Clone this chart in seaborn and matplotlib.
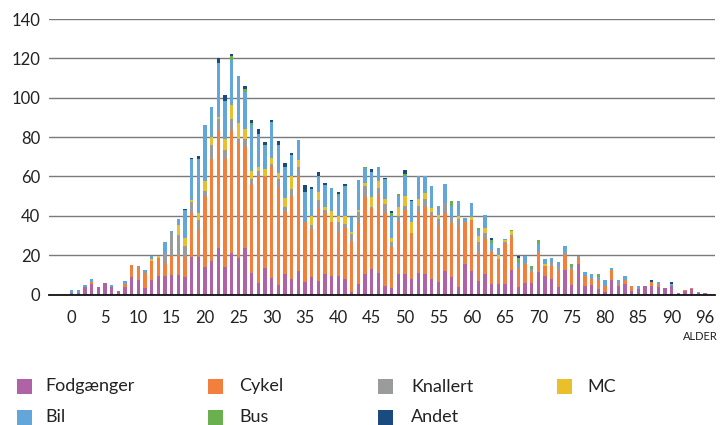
import numpy as np
import pandas as pd
import matplotlib
matplotlib.use("Agg")
import matplotlib.pyplot as plt
from matplotlib.patches import Rectangle
import seaborn as sns

# ---------------- data ----------------
ages = list(range(0, 95)) + [96]

fodgaenger = [1, 1, 4, 5.5, 4, 5.8, 4, 2, 4, 8.8,
              7.3, 3.2, 7.3, 9.3, 9.3, 10, 10, 9, 19.2, 19.2,
              14.1, 17.2, 23.5, 14.1, 21.3, 18.4, 23.5, 11.1, 6, 13.3,
              8.2, 4.8, 10.2, 7.8, 12, 6.1, 9, 6.9, 10.2, 9.3,
              9.3, 8.1, 1.4, 5.1, 10.2, 12.9, 11, 4.2, 3.1, 10.2,
              10.2, 7.8, 11, 10.2, 8.1, 6.4, 12, 9, 3.9, 15.4,
              12, 6.8, 10.3, 5.3, 5.3, 5.3, 12.4, 3.6, 5.6, 5.6,
              11.2, 9.3, 7.8, 3.6, 12.4, 4.7, 15.4, 4.4, 4.8, 2.6,
              1.4, 7.4, 4.3, 5.2, 1.8, 2.6, 4.3, 4.3, 4, 3.1,
              4.3, 1, 1.8, 2.6, 0.9, 0.9]
cykel = [0, 0, 0, 1, 0, 0, 0, 0, 1.5, 6,
         6.6, 7.5, 9.7, 9.3, 6.3, 9.8, 10, 10, 22, 14,
         35.4, 51.9, 59.9, 54.8, 61.8, 58.7, 51.6, 45.3, 54.1, 47.1,
         57.2, 49.5, 31.9, 42.4, 48.1, 30.8, 24.1, 37.3, 31, 27.6,
         22.2, 25.9, 25.1, 31, 39.2, 31, 40, 37, 21.2, 26.8,
         32.7, 23.7, 31, 34.1, 32.2, 28.3, 29.2, 27.5, 30.5, 21.5,
         25.8, 14.4, 18.1, 16.1, 12.5, 20.3, 16.9, 10, 9.7, 5.9,
         10.5, 5.1, 6.6, 8.3, 7.6, 8, 2.9, 4.9, 2.9, 4.7,
         2.9, 5.1, 1, 2.2, 2.5, 0, 0, 2, 1.4, 0,
         0, 0, 0.5, 0.5, 0, 0]
knallert = [0, 0, 0, 0, 0, 0, 0, 0, 0, 0,
            0, 0, 0, 0, 5.3, 11.7, 10.4, 5.6, 5.6, 4.8,
            2.9, 7, 6, 4.3, 6.3, 2, 4.1, 2.4, 2.6, 0,
            0.8, 4.2, 2.2, 3.2, 4.7, 0, 2.2, 3.7, 1.7, 0,
            5.4, 2, 4.2, 5.9, 5.9, 0.8, 2.9, 4.7, 2.2, 2.9,
            2, 0, 2.9, 4.1, 1.7, 3.9, 5.4, 2.7, 4.2, 0,
            0, 5.3, 2.9, 1.2, 0, 1.2, 0.8, 0, 0.8, 0.8,
            0, 0, 2.2, 2.5, 1.7, 1.4, 1.2, 0, 0.5, 0,
            0, 0, 0, 0, 0, 0, 0, 0, 0, 0,
            0, 0, 0, 0, 0, 0]
mc = [0, 0, 0, 0, 0, 0, 0, 0, 0, 0,
      0, 0, 0.8, 1.2, 0, 0, 5, 3.9, 1.2, 3.4,
      5.1, 4.1, 1, 6, 6.8, 8.2, 5.1, 3.9, 2, 3.4,
      3, 3, 4.9, 6.8, 3.7, 0, 4.7, 4.2, 1.4, 5.4,
      3, 3.9, 1.2, 0.8, 1.2, 5.1, 4, 2.4, 2, 4.4,
      5.1, 5.4, 3.4, 3.1, 2.2, 1.7, 0, 0, 1.4, 0,
      1.4, 3.2, 2.7, 0, 2.2, 0.8, 2.2, 0, 0, 0,
      0, 1, 0, 0, 0, 0, 0, 0, 0, 0,
      0, 0, 0, 0, 0, 0, 0, 0, 0, 0,
      0, 0, 0, 0, 0, 0]
bil = [1.5, 1.2, 0.6, 1.3, 0, 0, 1, 0, 1.2, 0,
       0.8, 2, 2, 0, 6, 1, 3, 14.3, 21, 27.7,
       28.8, 15.3, 27.2, 19.2, 23.1, 23.8, 18.7, 23.3, 16.7, 12.3,
       18.4, 14.6, 15.8, 10.7, 10.2, 15.3, 13.4, 8, 11.4, 12,
       10.2, 15.3, 7.3, 15.3, 8, 12.4, 6.8, 10.2, 11.4, 5.8,
       10.2, 10.5, 11.9, 8.8, 10.8, 4.6, 9.8, 5.9, 7.5, 2.2,
       7.1, 3.1, 6.3, 3.7, 3.4, 0.8, 0, 2.5, 3.4, 0.8,
       3.9, 2.4, 1.7, 2.2, 2.9, 0, 0, 2.2, 2.2, 1.7,
       3, 0.8, 2, 2, 0, 1.7, 0, 0, 1, 0,
       1, 0, 0, 0, 0.5, 0]
bus = [0, 0, 0, 0, 0, 0, 0, 0, 0, 0,
       0, 0, 0, 0, 0, 0, 0, 0, 0, 0,
       0, 0, 0, 0, 1.7, 0, 1.4, 0.9, 0, 0,
       0, 0, 0, 0, 0, 0, 0, 0, 0, 0,
       0.8, 0, 0, 0, 0.5, 0, 0, 0, 1.7, 1,
       1, 0, 0, 0, 0, 0, 0, 2.4, 0, 0,
       0, 0.8, 0, 1.4, 0, 0, 0.7, 2.2, 0, 1.2,
       2, 0, 0, 0, 0, 1.4, 0, 0, 0, 1.4,
       0, 0, 0, 0, 0, 0, 0, 0, 0, 0,
       0, 0, 0, 0, 0, 0]
andet = [0, 0, 0, 0, 0, 0, 0, 0, 0, 0,
         0, 0, 0, 0, 0, 0, 0, 0.9, 0.5, 1.2,
         0, 0, 2.7, 2.9, 1.4, 0, 1.7, 1.7, 2.9, 1.4,
         1, 2, 2, 1.2, 0, 3.2, 1, 2.2, 0.8, 0,
         1.2, 1.2, 0, 0, 0, 1.8, 0, 0.8, 0.8, 0,
         2, 0.8, 0, 0, 0, 0, 0, 0, 0, 0,
         0, 0, 0, 0.8, 0, 0, 0, 1.2, 0, 0,
         0, 0, 0, 0, 0, 0, 0, 0, 0, 0,
         0, 0, 0, 0, 0, 0, 0, 1, 0, 0,
         1, 0, 0, 0, 0, 0]

categories = ["Fodgænger", "Cykel", "Knallert", "MC", "Bil", "Bus", "Andet"]
series = [fodgaenger, cykel, knallert, mc, bil, bus, andet]
colors = ["#B062A6", "#F2803C", "#999B9C", "#E9C02B", "#62A6DA", "#6AB04F", "#1B4A7E"]
xtick_idx = list(range(0, 91, 5)) + [95]

# ---------------- plot ----------------
sns.set_style("white")
plt.rcParams["font.family"] = ["Lato", "DejaVu Sans"]

W, H = 721, 425
fig = plt.figure(figsize=(W / 100, H / 100), dpi=100)
ax = fig.add_axes([49.3 / W, 1 - 294.5 / H, (715 - 49.3) / W, (294.5 - 19) / H])

df = pd.DataFrame({c: s for c, s in zip(categories, series)})
df["pos"] = np.arange(len(ages))
cum = df[categories].cumsum(axis=1)

# draw from the top layer down so lower layers overlay the upper totals
for cat, col in reversed(list(zip(categories, colors))):
    sns.barplot(x=df["pos"], y=cum[cat], native_scale=True, color=col,
                saturation=1, width=0.46, errorbar=None, linewidth=0, ax=ax)

ax.set_xlim(-3.36, 96.5)
ax.set_ylim(0, 140)
ax.set_yticks(range(0, 141, 20))
ax.set_xticks(xtick_idx)
ax.set_xticklabels([str(ages[i]) for i in xtick_idx])
ax.set_xlabel("")
ax.set_ylabel("")
ax.yaxis.grid(True, color="#7a7a7a", linewidth=1.0)
ax.set_axisbelow(True)
for s in ["top", "right", "left"]:
    ax.spines[s].set_visible(False)
ax.spines["bottom"].set_color("#111111")
ax.spines["bottom"].set_linewidth(1.3)
ax.tick_params(axis="y", length=0, pad=6.5, labelsize=12, labelcolor="#222222")
ax.tick_params(axis="x", length=0, pad=11, labelsize=12, labelcolor="#222222")

fig.text(718 / W, 1 - 337 / H, "ALDER", ha="right", va="center",
         fontsize=8, color="#222222")

# legend
col_sq = [17.3, 208, 378, 557]
col_tx = [45.7, 239.3, 411, 587]
rows = [386.5, 417.5]
sq = 15
for i, (cat, col) in enumerate(zip(categories, colors)):
    r, c = divmod(i, 4)
    yc = rows[r]
    fig.add_artist(Rectangle((col_sq[c] / W, 1 - (yc + sq / 2) / H), sq / W, sq / H,
                             transform=fig.transFigure, facecolor=col, edgecolor="none"))
    fig.text(col_tx[c] / W, 1 - yc / H, cat, ha="left", va="center",
             fontsize=13, color="#222222")

fig.savefig("out.png", dpi=100)
